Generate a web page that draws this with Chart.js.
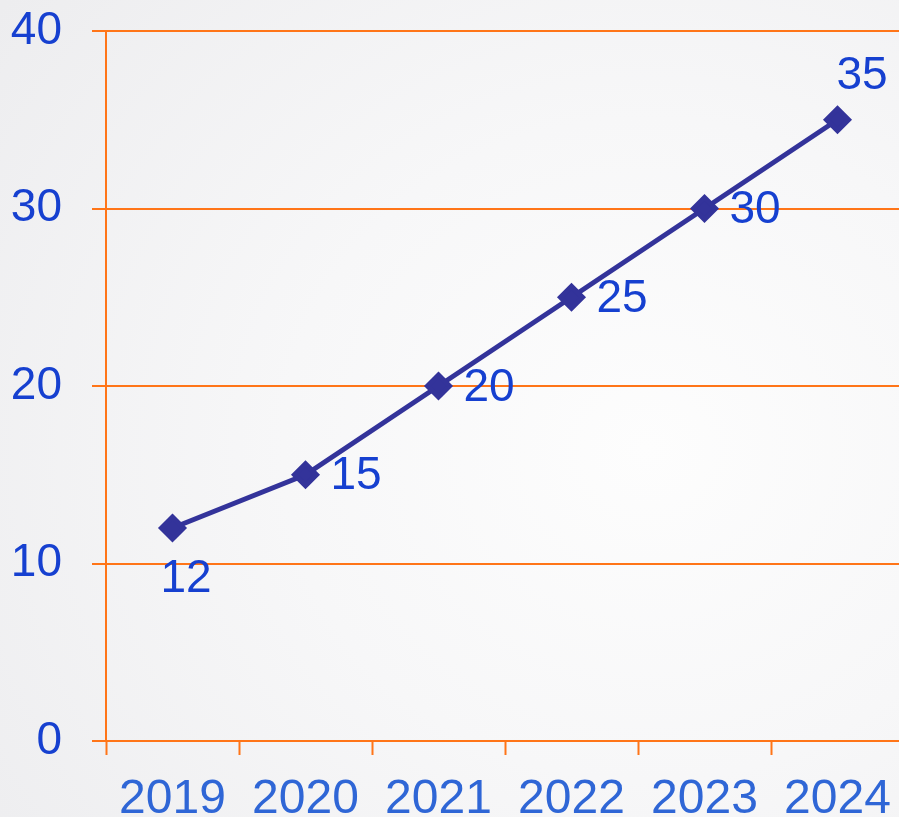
<!DOCTYPE html>
<html>
<head>
<meta charset="utf-8">
<script src="https://cdn.jsdelivr.net/npm/chart.js@4"></script>
<style>
  html, body { margin: 0; padding: 0; overflow: hidden; }
  body {
    width: 899px; height: 817px;
    background: radial-gradient(ellipse 90% 90% at 72% 55%, #fdfdfd 0%, #f7f7f8 45%, #ededef 100%);
  }
  #wrap { position: absolute; left: 0; top: 0; width: 920px; height: 817px; }
</style>
</head>
<body>
<div id="wrap"><canvas id="lineChart"></canvas></div>
<script>
    // chart data
    const years = ['2019', '2020', '2021', '2022', '2023', '2024'];
    const values = [12, 15, 20, 25, 30, 35];
    const yTicks = [0, 10, 20, 30, 40];

    const orange = '#ff7518';
    const labelBlue = '#1640d0';

    // draws the value next to each point
    const valueLabels = {
        id: 'valueLabels',
        afterDatasetsDraw(chart) {
            const ctx = chart.ctx;
            const meta = chart.getDatasetMeta(0);
            ctx.save();
            ctx.font = '46px "Liberation Sans", Arial, sans-serif';
            ctx.fillStyle = labelBlue;
            ctx.textAlign = 'left';
            ctx.textBaseline = 'middle';
            meta.data.forEach((pt, i) => {
                let x = pt.x + 25, y = pt.y + 2;
                if (i === 0) { x = pt.x - 12; y = pt.y + 51; }
                if (i === meta.data.length - 1) { x = pt.x - 1; y = pt.y - 43; }
                ctx.fillText(String(values[i]), x, y);
            });
            ctx.restore();
        }
    };

    const ctx = document.getElementById('lineChart').getContext('2d');
    new Chart(ctx, {
        type: 'line',
        data: {
            labels: years,
            datasets: [{
                data: values,
                borderColor: '#33339a',
                backgroundColor: '#33339a',
                borderWidth: 5,
                pointStyle: 'rectRot',
                pointRadius: 11,
                pointHoverRadius: 11,
                tension: 0
            }]
        },
        options: {
            responsive: true,
            maintainAspectRatio: false,
            animation: false,
            layout: { padding: { top: 31, right: 0, left: 0, bottom: 0 } },
            plugins: {
                legend: { display: false },
                tooltip: { enabled: false }
            },
            scales: {
                x: {
                    offset: true,
                    border: { color: orange, width: 2 },
                    grid: {
                        offset: true,
                        drawOnChartArea: false,
                        drawTicks: true,
                        tickLength: 14,
                        tickColor: orange,
                        tickWidth: 2
                    },
                    ticks: {
                        color: '#2f66d6',
                        padding: 16,
                        maxRotation: 0,
                        font: { family: '"Liberation Sans", Arial, sans-serif', size: 48 }
                    },
                    afterFit(scale) { scale.height = 76; }
                },
                y: {
                    min: 0,
                    max: 40,
                    afterBuildTicks(scale) { scale.ticks = yTicks.map(v => ({ value: v })); },
                    border: { color: orange, width: 2 },
                    grid: {
                        color: orange,
                        lineWidth: 2,
                        tickLength: 14,
                        tickColor: orange
                    },
                    ticks: {
                        color: labelBlue,
                        padding: 30,
                        font: { family: '"Liberation Sans", Arial, sans-serif', size: 46 }
                    },
                    afterFit(scale) {
                        scale.width = 106;
                        scale.paddingTop = 0;
                        scale.paddingBottom = 0;
                    }
                }
            }
        },
        plugins: [valueLabels]
    });
</script>
</body>
</html>
